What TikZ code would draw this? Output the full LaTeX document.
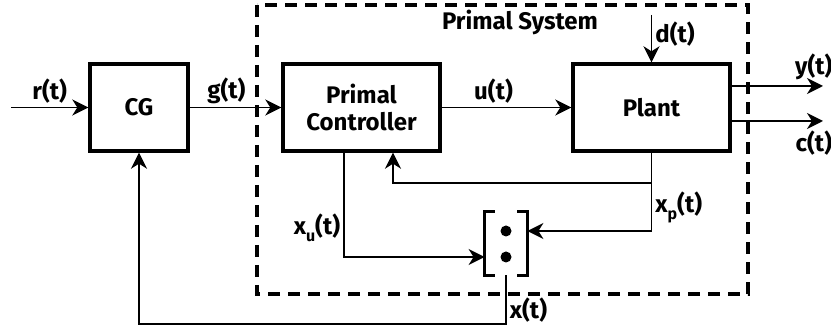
\documentclass[tikz,border=0pt]{standalone}
\usepackage{fontspec}
\setmainfont{Fira Sans}
\usetikzlibrary{arrows.meta,positioning}

\tikzset{
  block/.style={draw, line width=1.7pt, minimum height=43.5pt, font=\fontsize{12}{13.5}\selectfont\bfseries, align=center, inner sep=0pt},
  sig/.style={line width=0.9pt, -{Stealth[length=8pt,width=8pt,inset=2.5pt]}},
  lbl/.style={font=\fontsize{12}{13.5}\selectfont\bfseries, inner sep=1.5pt},
  dot/.style={circle, fill, inner sep=0pt, minimum size=5.5pt},
}

\begin{document}
\begin{tikzpicture}[x=0.5pt, y=-0.5pt]
    \useasboundingbox (0,0) rectangle (831,331);

    % Rahmen des Primal System
    \draw[line width=1.7pt, dash pattern=on 6pt off 4pt] (257,5) rectangle (748,294);
    \node[lbl] (systitle) at (520,22) {Primal System};

    % Blöcke
    \node[block, minimum width=49pt] (cg) at (139,107.5) {CG};
    \node[block, minimum width=78.5pt] (ctrl) at (361.5,107.5) {Primal\\Controller};
    \node[block, minimum width=78.5pt] (plant) at (651.5,107.5) {Plant};

    % Zustandsvektor (Klammer mit zwei Punkten)
    \node[minimum width=21pt, minimum height=31.5pt, inner sep=0pt] (mux) at (506,243.5) {};
    \draw[line width=1.7pt] ([xshift=5pt]mux.north west) -| (mux.south west) -- ++(5pt,0);
    \draw[line width=1.7pt] ([xshift=-5pt]mux.north east) -| (mux.south east) -- ++(-5pt,0);
    \node[dot] (dota) at (506,231) {};
    \node[dot] (dotb) at (506,257) {};

    % Hilfspunkte
    \coordinate (rin) at (11,107.5);
    \coordinate (din) at (651.5,15);
    \coordinate (yout) at (823,86);
    \coordinate (cout) at (823,121);
    \coordinate (tap) at (651.5,183);
    \coordinate (fbc) at (393,183);
    \coordinate (xpc) at (651.5,231);
    \coordinate (xuc) at (344,257);
    \coordinate (xc) at (506,324);

    % Signale
    \draw[sig] (rin) -- node[lbl, above] {r(t)} (cg);
    \draw[sig] (cg) -- node[lbl, above, pos=0.4] {g(t)} (ctrl);
    \draw[sig] (ctrl) -- node[lbl, above, pos=0.4] {u(t)} (plant);
    \draw[sig] (din) -- node[lbl, right, pos=0.4] {d(t)} (plant);
    \draw[sig] (plant.east |- yout) -- node[lbl, above, pos=0.9, yshift=1pt] {y(t)} (yout);
    \draw[sig] (plant.east |- cout) -- node[lbl, below, pos=0.9, yshift=-3pt] {c(t)} (cout);

    % Rückführungen
    \draw[sig] (plant.south) -- (tap) -- (fbc) -- (ctrl.south -| fbc);
    \draw[sig] (tap) -- node[lbl, right] {x\raisebox{-3.5pt}{\footnotesize p}(t)} (xpc) -- (mux.east |- xpc);
    \draw[sig] (ctrl.south -| xuc) -- node[lbl, left, pos=0.72] {x\raisebox{-3.5pt}{\footnotesize u}(t)} (xuc) -- (mux.west |- xuc);
    \draw[sig] (mux.south) -- node[lbl, right, pos=0.72] {x(t)} (xc) -| (cg.south);
\end{tikzpicture}
\end{document}
